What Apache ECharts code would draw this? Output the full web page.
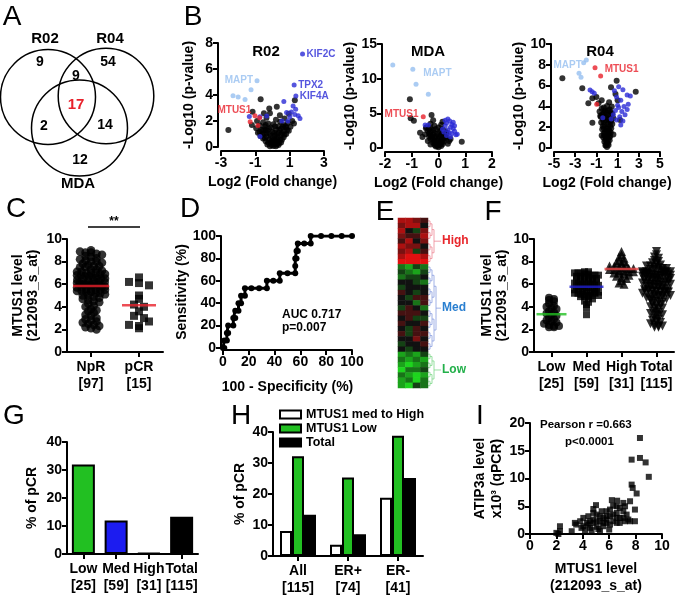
<!DOCTYPE html>
<html>
<head>
<meta charset="utf-8">
<script src="https://cdn.jsdelivr.net/npm/echarts@6/dist/echarts.min.js"></script>
<style>
  html, body { margin: 0; padding: 0; background: #fff; }
  #chart { width: 677px; height: 597px; }
</style>
</head>
<body>
<div id="chart"></div>
<script>
// ---- A: Venn counts (R02 only, R04 only, R02&R04, all three, R02&MDA, R04&MDA, MDA only)
const vennSets = ['R02', 'R04', 'MDA'];
const vennCounts = [9, 54, 9, 17, 2, 14, 12];

// ---- B: volcano plots [log2 fold change, -log10 p]
const r02Other = [[-0.15,0.05],[0.05,0.08],[0.2,0.05],[0.35,0.15],[-0.3,0.2],[0.1,0.25],[-0.1,0.35],[0.3,0.4],[0.5,0.35],[-0.4,0.45],[0.15,0.5],[-0.2,0.55],[0.45,0.6],[-0.55,0.65],[0.0,0.7],[0.3,0.75],[0.65,0.75],[-0.35,0.8],[-0.7,0.85],[0.15,0.9],[0.5,0.95],[-0.15,1.0],[0.8,1.0],[-0.5,1.05],[0.35,1.1],[-0.85,1.1],[0.0,1.15],[0.65,1.2],[-0.3,1.25],[0.95,1.25],[-0.65,1.3],[0.2,1.35],[0.5,1.4],[-0.95,1.45],[-0.1,1.5],[0.8,1.5],[-0.45,1.55],[1.05,1.55],[0.35,1.6],[-0.75,1.65],[0.65,1.7],[0.05,1.75],[-0.25,1.8],[0.9,1.85],[-0.55,1.9],[0.45,1.95],[1.15,2.0],[-0.9,2.0],[0.2,2.1],[0.7,2.2],[-0.35,2.25],[-0.15,2.6],[0.43,2.45],[-0.19,2.97],[-1.16,2.72],[-0.69,3.67],[-2.57,1.3],[1.3,3.6],[0.25,3.1],[-0.5,2.6],[0.95,2.55],[-1.2,1.7],[1.25,1.8],[0.1,0.6],[-0.05,0.45],[0.25,0.95],[-0.4,1.3],[0.6,1.55],
  [-0.05,0.15],[0.25,0.2],[-0.25,0.35],[0.4,0.3],[0.05,0.35],[-0.45,0.7],[0.55,0.55],[-0.6,0.95],[0.7,0.95],[0.4,1.3],[-0.2,1.4],[0.1,1.1],[-0.35,1.05],[0.85,1.3],[-0.75,1.15],[0.3,0.55],[-0.1,0.85],[0.55,1.05],[-0.55,1.3],[0.15,1.6],[-0.4,1.7],[0.75,1.6]];
const r02Up = [[1.75,7.15],[1.26,4.77],[1.36,3.92],[0.66,3.5],[1.2,3.15],[1.35,2.9],[0.82,2.65],[1.01,2.33],[1.5,2.4],[1.6,2.2],[-0.34,2.38],[-0.73,2.33],[-1.35,2.35],[-0.73,0.8],[0.9,2.0],[1.1,2.7],[0.55,2.0],[1.3,2.5]];
const r02Mapt = [[-0.9,5.1],[-1.25,4.4],[-2.3,3.95],[-2.0,3.85],[-1.6,3.65]];
const r02Mtus1 = [[-1.02,2.4],[-1.3,1.95],[-0.85,1.65],[-0.75,2.25]];
const r02Tags = [['KIF2C',1.75,7.15],['TPX2',1.26,4.77],['KIF4A',1.36,3.92],['MAPT',-0.9,5.1],['MTUS1',-1.0,2.85]];

const mdaOther = [[0,0.1],[-0.05,0.3],[0.05,0.45],[-0.1,0.6],[0.1,0.75],[-0.15,0.9],[0.15,1.0],[-0.05,1.1],[-0.2,1.2],[0.2,1.3],[0.0,1.4],[-0.25,1.5],[0.25,1.6],[-0.1,1.7],[-0.3,1.8],[0.1,1.85],[0.3,1.95],[-0.35,2.1],[-0.15,2.2],[0.05,2.3],[0.25,2.4],[-0.4,2.5],[-0.2,2.6],[0.15,2.7],[-0.3,2.85],[0.0,2.95],[-0.45,3.0],[-0.15,3.2],[0.1,3.35],[-0.3,3.5],[0.15,3.8],[-0.2,4.0],[-1.07,7.02],[-1.04,4.28],[-0.92,3.94],[-0.26,4.76],[-0.47,2.84],[-0.69,2.21],[0.87,0.91],[-0.5,2.0],[-0.6,1.6],[0.4,1.0],[-0.4,1.0],[0.45,1.3],[0.35,0.6],[-0.3,0.5],
  [-0.1,0.2],[0.1,0.3],[-0.15,0.45],[0.15,0.55],[0.05,0.65],[-0.2,0.75],[0.2,0.9],[-0.1,1.0],[0.1,1.15],[-0.3,1.3],[0.3,1.45],[-0.15,1.55],[0.05,1.7],[-0.35,1.65],[0.2,1.8],[-0.2,1.95],[0.15,2.1],[-0.05,2.05],[-0.3,2.35],[0.1,2.55],[-0.1,2.75],[-0.35,2.7],[0.3,2.2]];
const mdaUp = [[0.35,4.2],[0.42,3.9],[0.3,3.6],[0.5,3.4],[0.25,3.2],[0.45,3.0],[0.55,2.8],[0.35,2.6],[0.6,2.4],[0.2,2.3],[0.5,2.1],[0.65,1.9],[0.3,1.8],[0.45,1.6],[0.7,2.0],[0.15,2.7],[0.6,3.2],[0.4,2.2],[-0.38,3.3],[-0.5,3.3],[0.55,3.7],[0.25,4.0]];
const mdaMapt = [[-1.71,11.97],[-0.96,11.35],[-0.84,9.19],[-0.38,7.75]];
const mdaMtus1 = [[-0.57,4.52]];
const mdaTags = [['MAPT',-0.72,10.8],['MTUS1',-0.6,4.9]];

const r04Other = [[0,0.1],[-0.15,0.25],[0.15,0.3],[0.0,0.5],[-0.25,0.6],[0.25,0.75],[-0.05,0.9],[-0.35,1.0],[0.3,1.1],[0.05,1.25],[-0.3,1.4],[0.35,1.5],[-0.1,1.65],[-0.45,1.8],[0.4,1.9],[0.1,2.05],[-0.25,2.2],[0.5,2.3],[-0.55,2.45],[0.2,2.55],[-0.1,2.7],[0.6,2.85],[-0.6,3.0],[0.3,3.15],[-0.3,3.35],[0.1,3.6],[-0.5,3.8],[0.45,4.0],[-0.8,4.3],[0.2,4.4],[-4.21,6.7],[-2.33,5.74],[2.71,5.42],[0.91,6.47],[0.38,5.83],[-1.38,4.78],[-0.5,4.6],[-1.76,4.3],[-1.38,2.43],[1.23,2.69],[-0.2,3.6],[-0.63,3.1],[1.0,4.6],[-1.0,4.9],[0.8,5.2],[-0.1,1.1],[0.15,1.7],[-0.2,2.95],[0.35,3.45],[-0.7,3.5],[0.6,1.3],[-0.5,1.2],
  [-0.1,0.3],[0.1,0.45],[-0.15,0.75],[0.1,0.85],[0.2,1.0],[-0.2,1.15],[0.15,1.4],[-0.2,1.5],[0.25,1.6],[-0.3,1.9],[0.0,1.85],[0.3,2.1],[-0.4,2.1],[0.05,2.3],[-0.3,2.5],[0.35,2.5],[0.1,2.8],[-0.4,2.75],[0.4,2.7],[-0.1,3.05],[0.1,3.2],[-0.45,3.25],[0.5,3.3],[-0.15,3.45],[0.25,3.7],[-0.3,3.9],[0.0,4.05]];
const r04Up = [[-1.6,5.58],[-1.4,5.41],[-1.2,5.26],[0.7,5.5],[1.1,5.9],[1.5,5.6],[1.9,5.1],[2.2,5.0],[0.9,4.9],[1.3,4.6],[1.0,4.1],[1.6,4.0],[0.8,3.6],[1.4,3.5],[1.9,3.7],[1.2,3.0],[0.6,3.2],[1.7,3.2],[0.9,2.7],[1.5,2.6],[0.4,2.8],[1.1,3.9],[2.0,4.2],[1.3,2.2],[-0.4,2.9]];
const r04Mapt = [[-1.95,8.45],[-2.2,8.2],[-2.64,7.18],[-2.45,6.8]];
const r04Mtus1 = [[-1.13,7.72],[-0.6,6.92],[-0.97,4.2]];
const r04Tags = [['MAPT',-2.0,8.0],['MTUS1',-0.6,7.6]];

// ---- C: MTUS1 level by response
const respCats = ['NpR', 'pCR'];
const npr = [9.0,8.9,8.8,8.8,8.7,8.6,8.5,8.4,8.3,8.2,
  8.1,8.0,8.0,7.9,7.8,7.7,7.6,7.6,7.5,7.5,
  7.3,7.3,7.2,7.1,7.1,7.0,7.0,7.0,6.9,6.9,
  6.8,6.8,6.7,6.7,6.6,6.6,6.5,6.5,6.4,6.4,
  6.3,6.3,6.2,6.2,6.1,6.1,6.0,6.0,6.0,5.9,
  6.0,5.9,5.9,5.8,5.8,5.7,5.7,5.6,5.6,5.5,
  5.5,5.5,5.4,5.4,5.3,5.3,5.2,5.2,5.1,5.0,
  5.0,4.9,4.8,4.7,4.6,4.5,4.4,4.3,4.1,4.0,
  3.8,3.7,3.6,3.5,3.3,3.2,3.0,2.9,2.8,2.7,
  2.6,2.5,2.4,2.3,2.2,2.1,2.0];
const pcr = [6.6,6.2,6.1,5.9,5.0,4.7,4.2,4.0,3.6,3.2,3.0,2.4,2.3,2.1,2.7];

// ---- D: ROC curve vertices (100 - specificity, sensitivity)
const rocFpr = [0,1,1,3,3,4,4,8,8,9.5,9.5,12,12,14,14,17,17,22,28,34,34,39,44,44,50,56,56,56,57,57,58,58,63,68,68,76,84,92,100];
const rocTpr = [0,0,6.7,6.7,13.3,13.3,20,20,26.7,26.7,33.3,33.3,40,40,46.7,46.7,53.3,53.3,53.3,53.3,60,60,60,66.7,66.7,66.7,73.3,80,80,86.7,86.7,93.3,93.3,93.3,100,100,100,100,100];

// ---- E: heatmap rows (digit 0 = strong green, 4 = black, 8 = strong red)
const heatHigh = ['7765','6774','7436','6557','5746','7664','6735','7887','8888'];
const heatMed = ['2132','3213','2334','4432','3444','5434','4355','4425','3542','5554','4533','5445','4354','5355','4464','3445','4344'];
const heatLow = ['1213','2121','1012','0223','2101','1202','1032'];

// ---- F: MTUS1 level by group
const levelCats = ['Low', 'Med', 'High', 'Total'];
const lowVals = [4.8,4.7,4.6,4.5,4.3,4.1,4.0,3.9,3.8,3.6,3.5,3.4,3.3,3.2,3.0,2.9,2.8,2.7,2.6,2.5,2.4,2.3,2.3,2.2,2.2];
const medVals = [7.1,7.1,7.0,7.0,7.0,6.9,6.9,6.8,6.8,6.8,
  6.7,6.7,6.6,6.6,6.5,6.5,6.4,6.4,6.3,6.3,
  6.2,6.2,6.1,6.1,6.0,6.0,6.0,5.9,5.9,5.8,
  5.8,5.7,5.7,5.6,5.6,5.5,5.5,5.4,5.4,5.3,
  5.3,5.3,5.2,5.2,5.1,5.1,5.0,5.0,4.9,4.9,
  5.2,5.0,4.9,4.7,4.5,4.4,4.2,3.9,3.3];
const highVals = [8.9,8.6,8.4,8.3,8.1,8.0,7.9,7.8,7.7,7.6,
  7.6,7.5,7.5,7.4,7.4,7.3,7.3,7.2,7.2,7.1,
  7.1,7.0,7.0,6.9,6.8,6.7,6.6,6.5,6.3,6.1,6.0];

// ---- G: % pCR by MTUS1 group
const gCats = ['Low', 'Med', 'High', 'Total'];
const gCounts = [25, 59, 31, 115];
const gPcr = [32.0, 12.0, 0.3, 13.3];

// ---- H: % pCR by ER status
const hCats = ['All', 'ER+', 'ER-'];
const hCounts = [115, 74, 41];
const hMedHigh = [8.1, 3.6, 18.8];
const hLow = [32.2, 25.3, 38.8];
const hTotal = [13.3, 7.0, 25.2];

// ---- I: ATIP3a qPCR vs MTUS1 array
const atipPoints = [[8.33,17.3],[7.7,13.4],[8.33,13.7],[8.76,12.9],[9.0,10.3],[7.7,8.9],[7.78,8.3],[8.08,7.3],[7.58,5.9],[7.07,5.6],[7.2,5.0],[7.95,4.4],[7.95,2.3],[7.45,2.6],[6.8,4.7],[6.3,5.1],[6.06,4.4],[6.57,3.8],[5.8,3.2],[5.43,4.1],[4.8,4.5],[5.05,3.5],[4.42,3.2],[4.04,2.9],[3.8,2.3],[3.4,2.0],[4.3,2.0],[4.8,2.0],[5.3,2.3],[5.8,2.0],[6.3,2.3],[6.8,2.9],[7.07,2.9],[4.04,1.4],[4.55,1.1],[5.05,1.3],[5.55,1.4],[6.06,1.7],[6.57,2.0],[4.17,0.7],[4.67,0.7],[5.3,0.5],[3.16,0.5],[2.27,0.5],[2.15,0.0],[2.27,1.4],[2.0,0.2],[4.8,3.8],[5.3,3.2],[5.8,2.6],[6.06,3.2],[6.57,2.9],[5.55,2.9],[4.55,2.3],[5.05,2.3],[6.57,5.0],[7.07,4.1],[7.32,3.5],[6.3,3.5],[5.8,4.1],[3.5,1.7],[4.8,2.6],[5.55,2.0],[4.42,1.7],[3.9,1.1],[5.18,0.9],[6.0,0.8],[6.8,2.0],[7.2,2.3],[7.58,2.3],[5.0,5.2],[6.2,6.1],[6.6,6.0]];

// ------------------------------------------------------------------
const FONT = '"Liberation Sans", Arial, sans-serif';
const txt = { color: '#000', fontFamily: FONT, fontWeight: 'bold', fontSize: 14 };
const BLUE = '#2b2bd6', LIGHT = '#96bff0', RED = '#e8212b', GREEN = '#22c022';

const mean = arr => arr.reduce((s, v) => s + v, 0) / arr.length;

// spread points of a column horizontally (bins along the value axis)
function swarm(values, binSize, spacing, maxHalf) {
  const bins = {};
  values.forEach((v, i) => {
    const k = Math.round(v / binSize);
    (bins[k] = bins[k] || []).push(i);
  });
  const offsets = new Array(values.length).fill(0);
  Object.values(bins).forEach(idx => {
    const n = idx.length;
    const step = n > 1 ? Math.min(spacing, (2 * maxHalf) / (n - 1)) : 0;
    idx.forEach((i, j) => { offsets[i] = (j - (n - 1) / 2) * step; });
  });
  return offsets;
}

function valAxis(grid, min, max, interval, extra) {
  return Object.assign({
    type: 'value', gridIndex: grid, min, max, interval,
    axisLine: { show: true, onZero: false, lineStyle: { color: '#000', width: 2 } },
    axisTick: { show: true, length: 5, lineStyle: { color: '#000', width: 2 } },
    axisLabel: { ...txt, margin: 5 },
    splitLine: { show: false },
    nameLocation: 'middle',
    nameTextStyle: { ...txt }
  }, extra || {});
}

function catAxis(grid, data, extra) {
  return Object.assign({
    type: 'category', gridIndex: grid, data,
    axisLine: { show: true, onZero: false, lineStyle: { color: '#000', width: 2 } },
    axisTick: { show: true, alignWithLabel: true, length: 5, lineStyle: { color: '#000', width: 2 } },
    axisLabel: { ...txt, margin: 7, lineHeight: 17, interval: 0 },
    splitLine: { show: false }
  }, extra || {});
}

const grid = (left, top, width, height) => ({ left, top, width, height, containLabel: false, outerBoundsMode: 'none' });

const grids = [
  grid(221, 43, 103, 104),   // B R02
  grid(385, 44, 107, 104),   // B MDA
  grid(554, 44, 106, 104),   // B R04
  grid(67, 239, 96, 113),    // C
  grid(223, 236, 129, 112),  // D
  grid(398, 218, 30, 170),   // E
  grid(534, 239, 140, 113),  // F
  grid(67, 442, 131, 112),   // G
  grid(273, 432, 150, 124),  // H
  grid(530, 423, 132, 111)   // I
];

const volName = { name: 'Log2 (Fold change)', nameGap: 24 };
const pName = { name: '-Log10 (p-value)', nameGap: 22, nameRotate: 90 };
const xAxes = [
  valAxis(0, -3, 3, 2, { offset: 4, ...volName }),
  valAxis(1, -2, 2, 1, { offset: 4, ...volName }),
  valAxis(2, -5, 5, 2, { offset: 4, ...volName }),
  catAxis(3, respCats.map((c, i) => `${c}\n[${[npr, pcr][i].length}]`)),
  valAxis(4, 0, 100, 20, { offset: 2, name: '100 - Specificity (%)', nameGap: 30 }),
  { type: 'category', gridIndex: 5, data: [0, 1, 2, 3], show: false },
  catAxis(6, levelCats.map((c, i) => {
    const n = [lowVals, medVals, highVals][i];
    return `${c}\n[${n ? n.length : lowVals.length + medVals.length + highVals.length}]`;
  })),
  catAxis(7, gCats.map((c, i) => `${c}\n[${gCounts[i]}]`)),
  catAxis(8, hCats.map((c, i) => `${c}\n[${hCounts[i]}]`)),
  valAxis(9, 0, 10, 2, { name: 'MTUS1 level\n(212093_s_at)', nameGap: 27, nameTextStyle: { ...txt, lineHeight: 17 } })
];

const heatRows = [...heatHigh, ...heatMed, ...heatLow];
const yAxes = [
  valAxis(0, 0, 8, 2, { offset: 3, ...pName }),
  valAxis(1, 0, 15, 5, { offset: 3, ...pName }),
  valAxis(2, 0, 10, 2, { offset: 3, ...pName }),
  valAxis(3, 0, 10, 2, { name: 'MTUS1 level\n(212093_s_at)', nameGap: 26, nameRotate: 90, nameTextStyle: { ...txt, lineHeight: 15 } }),
  valAxis(4, 0, 100, 20, { offset: 2, name: 'Sensitivity (%)', nameGap: 22, nameRotate: 90 }),
  { type: 'category', gridIndex: 5, data: heatRows.map((r, i) => i), inverse: true, show: false },
  valAxis(6, 0, 10, 2, { name: 'MTUS1 level\n(212093_s_at)', nameGap: 21, nameRotate: 90, nameTextStyle: { ...txt, lineHeight: 15 } }),
  valAxis(7, 0, 40, 10, { name: '% of pCR', nameGap: 28, nameRotate: 90 }),
  valAxis(8, 0, 40, 10, { name: '% of pCR', nameGap: 26, nameRotate: 90 }),
  valAxis(9, 0, 20, 5, { name: 'ATIP3a level\nx10³ (qPCR)', nameGap: 22, nameRotate: 90, nameTextStyle: { ...txt, lineHeight: 17 } })
];

const series = [];

// B
const tagColor = { KIF2C: BLUE, TPX2: BLUE, KIF4A: BLUE, MAPT: LIGHT, MTUS1: RED };
function volcano(idx, other, up, mapt, mtus1, tags, tagSide) {
  const pts = (data, color, size) => ({
    type: 'scatter', xAxisIndex: idx, yAxisIndex: idx, data, symbolSize: size,
    itemStyle: { color }, silent: true
  });
  series.push(pts(other, '#000', 6), pts(up, BLUE, 5), pts(mapt, LIGHT, 5), pts(mtus1, RED, 5));
  series.push({
    type: 'scatter', xAxisIndex: idx, yAxisIndex: idx, symbolSize: 0, silent: true,
    data: tags.map(t => ({
      name: t[0], value: [t[1], t[2]],
      label: { show: true, formatter: '{b}', position: tagSide[t[0]], distance: 4,
        color: tagColor[t[0]], fontFamily: FONT, fontWeight: 'bold', fontSize: 10 }
    }))
  });
}
volcano(0, r02Other, r02Up, r02Mapt, r02Mtus1, r02Tags, { KIF2C: 'right', TPX2: 'right', KIF4A: 'right', MAPT: 'left', MTUS1: 'left' });
volcano(1, mdaOther, mdaUp, mdaMapt, mdaMtus1, mdaTags, { MAPT: 'right', MTUS1: 'left' });
volcano(2, r04Other, r04Up, r04Mapt, r04Mtus1, r04Tags, { MAPT: 'left', MTUS1: 'right' });

// column scatter helper (C and F)
function column(axis, cat, values, symbol, size, rotate, bin, spacing, maxHalf) {
  const offs = swarm(values, bin, spacing, maxHalf);
  series.push({
    type: 'scatter', xAxisIndex: axis, yAxisIndex: axis, symbol, symbolSize: size, symbolRotate: rotate,
    itemStyle: { color: '#000' }, silent: true,
    data: values.map((v, i) => ({ value: [cat, v], symbolOffset: [offs[i], 0] }))
  });
}
function meanBar(axis, cat, values, color, width) {
  series.push({
    type: 'scatter', xAxisIndex: axis, yAxisIndex: axis, symbol: 'rect', symbolSize: [width, 2.5],
    itemStyle: { color }, z: 5, silent: true, data: [[cat, mean(values)]]
  });
}

// C
column(3, 0, npr, 'circle', 8.5, 0, 0.35, 5.5, 14);
column(3, 1, pcr, 'rect', 8, 0, 0.5, 10, 14);
meanBar(3, 0, npr, RED, 36);
meanBar(3, 1, pcr, RED, 34);

// D
series.push({
  type: 'line', xAxisIndex: 4, yAxisIndex: 4, silent: true,
  data: rocFpr.map((x, i) => [x, rocTpr[i]]),
  symbol: 'circle', symbolSize: 6, showSymbol: true,
  lineStyle: { color: '#000', width: 3 }, itemStyle: { color: '#000' }
});

// E
const heatIndex = series.length;
series.push({
  type: 'heatmap', xAxisIndex: 5, yAxisIndex: 5, silent: true,
  data: heatRows.flatMap((row, r) => row.split('').map((d, c) => [c, r, Number(d) - 4]))
});

// F
const totalVals = [...lowVals, ...medVals, ...highVals];
column(6, 0, lowVals, 'circle', 8, 0, 0.3, 5, 10);
column(6, 1, medVals, 'rect', 7, 0, 0.3, 4, 12);
column(6, 2, highVals, 'triangle', 9, 0, 0.3, 5, 12);
column(6, 3, totalVals, 'triangle', 9, 180, 0.3, 4, 14);
meanBar(6, 0, lowVals, GREEN, 30);
meanBar(6, 1, medVals, '#1f1fd0', 34);
meanBar(6, 2, highVals, '#f04848', 34);
meanBar(6, 3, totalVals, '#000', 30);

// G
const gColors = [GREEN, '#1c1cf0', '#000', '#000'];
series.push({
  type: 'bar', name: 'G', xAxisIndex: 7, yAxisIndex: 7, barWidth: 23, silent: true,
  data: gPcr.map((v, i) => ({ value: v, itemStyle: { color: gColors[i] } })),
  itemStyle: { borderColor: '#000', borderWidth: 2 }
});

// H
const hBar = (name, data, color) => ({
  type: 'bar', name, xAxisIndex: 8, yAxisIndex: 8, data, barWidth: 12, barGap: '0%', silent: true,
  itemStyle: { color, borderColor: '#000', borderWidth: 2 }
});
series.push(hBar('MTUS1 med to High', hMedHigh, '#fff'), hBar('MTUS1 Low', hLow, GREEN), hBar('Total', hTotal, '#000'));

// I
series.push({
  type: 'scatter', xAxisIndex: 9, yAxisIndex: 9, data: atipPoints, symbol: 'rect', symbolSize: 6,
  itemStyle: { color: '#000' }, silent: true
});

// ---- graphic overlays: Venn, panel letters, annotations, dendrogram
const G = [];
const text = (t, x, y, o) => G.push({
  type: 'text', silent: true,
  style: Object.assign({ text: t, x, y, fill: '#000', font: `bold 14px ${FONT}`,
    textAlign: 'center', align: 'center', textVerticalAlign: 'middle', verticalAlign: 'middle' }, o || {})
});
const seg = (x1, y1, x2, y2, color, w) => ({
  type: 'line', silent: true, shape: { x1, y1, x2, y2 }, style: { stroke: color, lineWidth: w || 1 }
});

// Venn
[[48, 97, 47.5], [106, 96, 47.8], [79.5, 128, 48]].forEach(c => G.push({
  type: 'circle', silent: true, shape: { cx: c[0], cy: c[1], r: c[2] },
  style: { fill: 'none', stroke: '#000', lineWidth: 1.5 }
}));
[[45, 39], [110, 39], [78, 184]].forEach((p, i) => text(vennSets[i], p[0], p[1], { font: `bold 15px ${FONT}` }));
[[40, 62], [108, 62], [76, 76], [76, 105], [44, 126], [105, 125], [80, 160]].forEach((p, i) =>
  text(String(vennCounts[i]), p[0], p[1], i === 3 ? { fill: RED, font: `bold 15px ${FONT}` } : {}));

// panel letters
[['A', 12, 17], ['B', 193, 17], ['C', 16, 209], ['D', 190, 209], ['E', 385, 212], ['F', 493, 212],
 ['G', 14, 416], ['H', 241, 416], ['I', 480, 416]].forEach(l =>
  text(l[0], l[1], l[2], { font: `28px ${FONT}` }));

// titles in B
text('R02', 266, 52, { font: `bold 15px ${FONT}` });
text('MDA', 428, 52, { font: `bold 15px ${FONT}` });
text('R04', 600, 52, { font: `bold 15px ${FONT}` });

// C significance
G.push(seg(88, 227, 140, 227, '#000', 1.5));
text('**', 114, 222, { font: `bold 12px ${FONT}` });

// D annotation
text('AUC 0.717', 282, 315, { textAlign: 'left', align: 'left', font: `bold 12px ${FONT}` });
text('p=0.007', 282, 328, { textAlign: 'left', align: 'left', font: `bold 12px ${FONT}` });

// I annotation
text('Pearson r =0.663', 540, 425, { textAlign: 'left', align: 'left', font: `bold 11.5px ${FONT}` });
text('p<0.0001', 565, 442, { textAlign: 'left', align: 'left', font: `bold 11.5px ${FONT}` });

// E dendrogram
function dendro(ya, yb, depth, xLeaf, color) {
  if (depth === 0) return [xLeaf, (ya + yb) / 2];
  const ym = (ya + yb) / 2;
  const a = dendro(ya, ym, depth - 1, xLeaf, color);
  const b = dendro(ym, yb, depth - 1, xLeaf, color);
  const x = Math.max(a[0], b[0]) + 2;
  G.push(seg(a[0], a[1], x, a[1], color, 0.8), seg(b[0], b[1], x, b[1], color, 0.8), seg(x, a[1], x, b[1], color, 0.8));
  return [x, (a[1] + b[1]) / 2];
}
const rowH = 170 / heatRows.length;
let y0 = 218;
[[heatHigh, 'High', '#ee8896', '#e8262b', 3], [heatMed, 'Med', '#8a9ee0', '#2a7fd0', 4], [heatLow, 'Low', '#7fd88a', '#22b04a', 3]]
  .forEach(g => {
    const y1 = y0 + g[0].length * rowH;
    const root = dendro(y0, y1, g[4], 428, g[2]);
    G.push(seg(root[0], root[1], 441, root[1], g[2], 0.8));
    text(g[1], 442, root[1], { textAlign: 'left', align: 'left', fill: g[3], font: `bold 12px ${FONT}` });
    y0 = y1;
  });

const option = {
  backgroundColor: '#fff',
  animation: false,
  grid: grids,
  xAxis: xAxes,
  yAxis: yAxes,
  visualMap: {
    show: false, type: 'continuous', min: -4, max: 4, seriesIndex: heatIndex,
    inRange: { color: ['#1ed41e', '#111111', '#e01010'] }
  },
  legend: {
    data: ['MTUS1 med to High', 'MTUS1 Low', 'Total'],
    orient: 'vertical', left: 279, top: 408, icon: 'rect',
    itemWidth: 21, itemHeight: 8, itemGap: 1, selectedMode: false, padding: 0,
    textStyle: { ...txt, fontSize: 12.5, lineHeight: 13 }
  },
  graphic: G,
  series
};

const chart = echarts.init(document.getElementById('chart'));
chart.setOption(option);
</script>
</body>
</html>
